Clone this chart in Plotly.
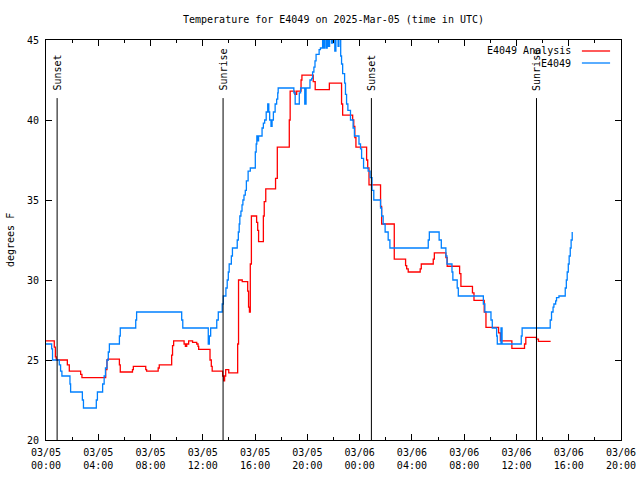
import plotly.graph_objects as go

# ---- data ----
blue_times = [
    "2025-03-05 00:00", "2025-03-05 00:26", "2025-03-05 00:30", "2025-03-05 01:01", "2025-03-05 01:07",
    "2025-03-05 01:13", "2025-03-05 01:50", "2025-03-05 01:53", "2025-03-05 02:47", "2025-03-05 02:52",
    "2025-03-05 03:51", "2025-03-05 03:56", "2025-03-05 04:20", "2025-03-05 04:27", "2025-03-05 04:33",
    "2025-03-05 04:40", "2025-03-05 04:46", "2025-03-05 04:51", "2025-03-05 05:37", "2025-03-05 05:41",
    "2025-03-05 06:52", "2025-03-05 06:56", "2025-03-05 10:23", "2025-03-05 10:28", "2025-03-05 12:25",
    "2025-03-05 12:30", "2025-03-05 12:36", "2025-03-05 13:04", "2025-03-05 13:11", "2025-03-05 13:29",
    "2025-03-05 13:34", "2025-03-05 13:46", "2025-03-05 13:52", "2025-03-05 13:57", "2025-03-05 14:01",
    "2025-03-05 14:11", "2025-03-05 14:16", "2025-03-05 14:38", "2025-03-05 14:43", "2025-03-05 14:47",
    "2025-03-05 14:50", "2025-03-05 14:55", "2025-03-05 15:00", "2025-03-05 15:04", "2025-03-05 15:09",
    "2025-03-05 15:15", "2025-03-05 15:20", "2025-03-05 15:28", "2025-03-05 15:38", "2025-03-05 16:01",
    "2025-03-05 16:05", "2025-03-05 16:08", "2025-03-05 16:12", "2025-03-05 16:16", "2025-03-05 16:32",
    "2025-03-05 16:38", "2025-03-05 16:44", "2025-03-05 16:51", "2025-03-05 16:58", "2025-03-05 17:03",
    "2025-03-05 17:07", "2025-03-05 17:13", "2025-03-05 17:18", "2025-03-05 17:24", "2025-03-05 17:32",
    "2025-03-05 17:39", "2025-03-05 17:44", "2025-03-05 17:46", "2025-03-05 18:58", "2025-03-05 19:04",
    "2025-03-05 19:23", "2025-03-05 19:29", "2025-03-05 19:48", "2025-03-05 19:54", "2025-03-05 20:12",
    "2025-03-05 20:20", "2025-03-05 20:24", "2025-03-05 20:30", "2025-03-05 20:35", "2025-03-05 20:40",
    "2025-03-05 20:54", "2025-03-05 21:00", "2025-03-05 21:10", "2025-03-05 21:15", "2025-03-05 21:20",
    "2025-03-05 21:27", "2025-03-05 21:31", "2025-03-05 21:37", "2025-03-05 21:42", "2025-03-05 21:51",
    "2025-03-05 21:57", "2025-03-05 22:06", "2025-03-05 22:11", "2025-03-05 22:21", "2025-03-05 22:25",
    "2025-03-05 22:33", "2025-03-05 22:37", "2025-03-05 22:42", "2025-03-05 22:51", "2025-03-05 22:55",
    "2025-03-05 23:00", "2025-03-05 23:06", "2025-03-05 23:18", "2025-03-05 23:30", "2025-03-05 23:36",
    "2025-03-05 23:57", "2025-03-06 00:04", "2025-03-06 00:09", "2025-03-06 00:18", "2025-03-06 00:39",
    "2025-03-06 00:48", "2025-03-06 00:57", "2025-03-06 01:05", "2025-03-06 01:36", "2025-03-06 01:41",
    "2025-03-06 01:48", "2025-03-06 01:57", "2025-03-06 02:11", "2025-03-06 02:19", "2025-03-06 05:15",
    "2025-03-06 05:20", "2025-03-06 06:05", "2025-03-06 06:15", "2025-03-06 06:36", "2025-03-06 06:41",
    "2025-03-06 07:04", "2025-03-06 07:08", "2025-03-06 07:28", "2025-03-06 07:33", "2025-03-06 09:28",
    "2025-03-06 09:35", "2025-03-06 10:03", "2025-03-06 10:09", "2025-03-06 10:29", "2025-03-06 10:32",
    "2025-03-06 10:49", "2025-03-06 10:54", "2025-03-06 12:22", "2025-03-06 12:26", "2025-03-06 14:35",
    "2025-03-06 14:41", "2025-03-06 14:48", "2025-03-06 14:52", "2025-03-06 15:00", "2025-03-06 15:04",
    "2025-03-06 15:15", "2025-03-06 15:44", "2025-03-06 15:49", "2025-03-06 15:53", "2025-03-06 15:58",
    "2025-03-06 16:02", "2025-03-06 16:07", "2025-03-06 16:11", "2025-03-06 16:16",
]
blue_values = [
    26.0, 25.7, 25.0, 24.7, 24.3,
    24.0, 23.5, 23.0, 22.5, 22.0,
    22.5, 23.0, 23.5, 24.0, 24.5,
    25.0, 25.5, 26.0, 26.5, 27.0,
    27.5, 28.0, 27.5, 27.0, 26.0,
    26.5, 27.0, 27.5, 28.0, 28.5,
    29.0, 29.5, 30.0, 30.5, 31.0,
    31.5, 32.0, 32.5, 33.0, 33.5,
    34.0, 34.3, 34.7, 35.0, 35.3,
    35.6, 36.2, 36.8, 37.0, 38.0,
    38.5, 39.0, 38.7, 39.0, 39.5,
    39.8, 40.0, 40.5, 41.0, 40.5,
    40.0, 39.6, 40.0, 40.5, 41.0,
    41.3, 41.7, 42.0, 41.7, 41.0,
    41.7, 42.0, 41.0, 42.0, 42.5,
    42.6, 43.0, 43.3, 43.7, 44.1,
    44.4, 44.5, 45.3, 44.5, 45.3,
    44.5, 45.3, 44.6, 45.3, 44.8,
    45.3, 44.3, 45.3, 44.6, 45.3,
    44.0, 43.5, 42.9, 42.3, 41.6,
    41.0, 40.6, 40.0, 39.5, 39.0,
    38.5, 38.2, 37.6, 37.0, 36.8,
    36.4, 35.6, 35.0, 34.5, 34.0,
    33.5, 33.0, 32.5, 32.0, 32.5,
    33.0, 32.5, 32.0, 31.5, 31.0,
    30.5, 30.0, 29.5, 29.0, 28.5,
    28.0, 27.5, 27.0, 26.5, 26.0,
    27.0, 26.0, 26.5, 27.0, 27.5,
    28.0, 28.3, 28.5, 28.7, 28.9,
    29.0, 29.5, 30.0, 30.5, 31.0,
    31.5, 32.0, 32.5, 33.0,
]

red_times = [
    "2025-03-05 00:00", "2025-03-05 00:38", "2025-03-05 00:43", "2025-03-05 00:47", "2025-03-05 01:38",
    "2025-03-05 01:47", "2025-03-05 02:39", "2025-03-05 02:45", "2025-03-05 04:34", "2025-03-05 04:40",
    "2025-03-05 04:44", "2025-03-05 05:37", "2025-03-05 05:41", "2025-03-05 06:37", "2025-03-05 06:41",
    "2025-03-05 07:38", "2025-03-05 07:42", "2025-03-05 08:35", "2025-03-05 08:40", "2025-03-05 09:37",
    "2025-03-05 09:41", "2025-03-05 09:46", "2025-03-05 10:34", "2025-03-05 10:40", "2025-03-05 10:46",
    "2025-03-05 10:55", "2025-03-05 11:13", "2025-03-05 11:32", "2025-03-05 11:38", "2025-03-05 11:41",
    "2025-03-05 12:33", "2025-03-05 12:39", "2025-03-05 12:43", "2025-03-05 13:31", "2025-03-05 13:36",
    "2025-03-05 13:40", "2025-03-05 13:45", "2025-03-05 13:59", "2025-03-05 14:40", "2025-03-05 14:44",
    "2025-03-05 15:01", "2025-03-05 15:26", "2025-03-05 15:30", "2025-03-05 15:34", "2025-03-05 15:38",
    "2025-03-05 15:43", "2025-03-05 16:07", "2025-03-05 16:12", "2025-03-05 16:16", "2025-03-05 16:38",
    "2025-03-05 16:42", "2025-03-05 16:49", "2025-03-05 17:34", "2025-03-05 17:42", "2025-03-05 18:37",
    "2025-03-05 18:41", "2025-03-05 19:03", "2025-03-05 19:11", "2025-03-05 19:31", "2025-03-05 19:35",
    "2025-03-05 20:27", "2025-03-05 20:36", "2025-03-05 21:41", "2025-03-05 22:37", "2025-03-05 22:42",
    "2025-03-05 23:28", "2025-03-05 23:33", "2025-03-05 23:38", "2025-03-05 23:43", "2025-03-06 00:32",
    "2025-03-06 00:37", "2025-03-06 00:43", "2025-03-06 01:36", "2025-03-06 01:41", "2025-03-06 02:39",
    "2025-03-06 03:31", "2025-03-06 03:36", "2025-03-06 03:43", "2025-03-06 04:38", "2025-03-06 04:43",
    "2025-03-06 05:38", "2025-03-06 05:43", "2025-03-06 06:36", "2025-03-06 06:42", "2025-03-06 07:39",
    "2025-03-06 07:45", "2025-03-06 08:38", "2025-03-06 08:45", "2025-03-06 09:32", "2025-03-06 09:40",
    "2025-03-06 10:38", "2025-03-06 10:46", "2025-03-06 11:39", "2025-03-06 12:37", "2025-03-06 12:43",
    "2025-03-06 13:32", "2025-03-06 13:41", "2025-03-06 14:37",
]
red_values = [
    26.2, 25.8, 25.2, 25.0, 24.7,
    24.3, 24.1, 23.9, 24.4, 25.0,
    25.05, 24.7, 24.25, 24.4, 24.6,
    24.4, 24.3, 24.5, 24.7, 25.3,
    25.9, 26.2, 26.0, 25.85, 26.0,
    26.2, 26.1, 26.0, 25.85, 25.67,
    25.0, 24.6, 24.3, 24.0, 23.7,
    24.0, 24.4, 24.2, 26.0, 30.0,
    29.9, 29.3, 28.3, 28.0, 31.0,
    34.0, 33.6, 33.1, 32.4, 34.0,
    34.9, 35.7, 36.35, 38.3, 40.0,
    41.8, 41.6, 41.8, 42.5, 42.8,
    42.4, 41.9, 42.3, 41.0, 40.3,
    40.0, 39.6, 38.9, 38.3, 37.5,
    37.0, 35.94, 34.6, 33.5, 31.3,
    30.9, 30.7, 30.5, 30.7, 31.0,
    31.3, 31.7, 31.4, 30.86, 30.4,
    29.6, 29.2, 28.73, 28.0, 27.04,
    26.7, 26.19, 25.73, 26.0, 26.42,
    26.3, 26.17, 26.17,
]

sun_labels = ["Sunset", "Sunrise", "Sunset", "Sunrise"]
sun_times = ["2025-03-05 00:51", "2025-03-05 13:33", "2025-03-06 00:54", "2025-03-06 13:32"]

series_names = ["E4049 Analysis", "E4049"]
series_colors = ["#ff0000", "#0080ff"]

x_range = ["2025-03-05 00:00", "2025-03-06 20:00"]
y_range = [20, 45]

FONT = "DejaVu Sans Mono"

fig = go.Figure()
fig.add_trace(go.Scatter(x=red_times, y=red_values, mode="lines", line_shape="hv",
                         line=dict(color=series_colors[0], width=1.3), name=series_names[0],
                         showlegend=False))
fig.add_trace(go.Scatter(x=blue_times, y=blue_values, mode="lines", line_shape="hv",
                         line=dict(color=series_colors[1], width=1.3), name=series_names[1],
                         showlegend=False))

shapes = []
annotations = []
for lbl, t in zip(sun_labels, sun_times):
    shapes.append(dict(type="line", xref="x", yref="y", x0=t, x1=t, y0=20, y1=41.37,
                       line=dict(color="black", width=1)))
    annotations.append(dict(x=t, y=41.72, xref="x", yref="y", text=lbl, textangle=-90,
                            showarrow=False, xanchor="center", yanchor="bottom",
                            font=dict(family=FONT, size=10, color="black")))

# legend (gnuplot-style: text left of sample line)
leg_y = [0.9725, 0.9425]
for name, col, ly in zip(series_names, series_colors, leg_y):
    annotations.append(dict(x=0.9165, y=ly, xref="paper", yref="paper", text=name,
                            showarrow=False, xanchor="right", yanchor="middle",
                            font=dict(family=FONT, size=10, color="black")))
    shapes.append(dict(type="line", xref="paper", yref="paper", x0=0.932, x1=0.981,
                       y0=ly, y1=ly, line=dict(color=col, width=1.3)))

annotations.append(dict(x=-0.0626, y=0.5, xref="paper", yref="paper", text="degrees F",
                        textangle=-90, showarrow=False, xanchor="center", yanchor="middle",
                        font=dict(family=FONT, size=10, color="black")))

fig.update_layout(
    width=640, height=480,
    margin=dict(l=46, r=19, t=40, b=40, autoexpand=False),
    paper_bgcolor="white", plot_bgcolor="white",
    title=dict(text="Temperature for E4049 on 2025-Mar-05 (time in UTC)", xref="paper", x=0.5,
               xanchor="center", y=1 - 19 / 480, yanchor="middle",
               font=dict(family=FONT, size=10, color="black")),
    shapes=shapes, annotations=annotations,
    font=dict(family=FONT, size=10, color="black"),
)
fig.update_xaxes(type="date", range=x_range, tick0="2025-03-05 00:00", dtick=4 * 3600 * 1000,
                 tickformat="%m/%d<br>%H:%M", ticks="inside", ticklen=6, tickcolor="black",
                 showline=True, linecolor="black", linewidth=1, mirror="allticks",
                 showgrid=False, zeroline=False, automargin=False, ticklabelstandoff=3,
                 minor=dict(dtick=2 * 3600 * 1000, ticks="inside", ticklen=3, tickcolor="black",
                            showgrid=False),
                 tickfont=dict(family=FONT, size=10, color="black"))
fig.update_yaxes(range=y_range, dtick=5, ticks="inside", ticklen=6, tickcolor="black",
                 showline=True, linecolor="black", linewidth=1, mirror="allticks",
                 showgrid=False, zeroline=False, automargin=False, ticklabelstandoff=4,
                 tickfont=dict(family=FONT, size=10, color="black"))

fig.write_html("out.html")
